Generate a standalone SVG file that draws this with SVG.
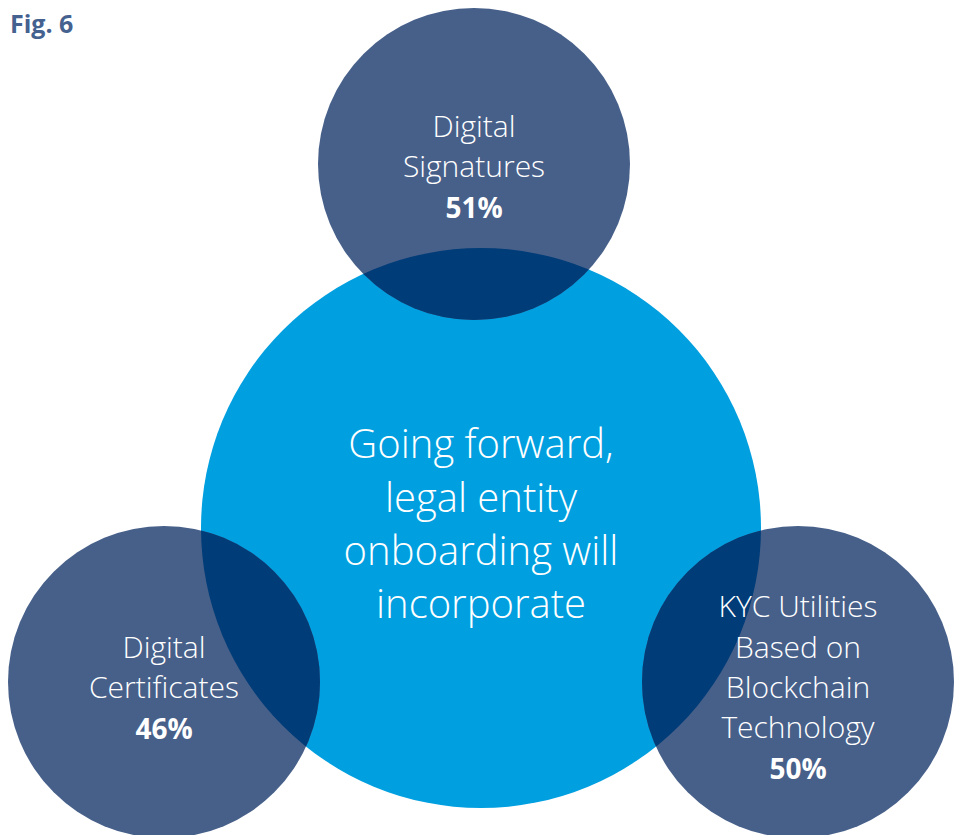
<svg xmlns="http://www.w3.org/2000/svg" width="963" height="835" viewBox="0 0 963 835">
<style>
.small{fill:#47608A}
.ov{fill:#003C78}
.big{fill:#009FE0}
.t{font-family:"Open Sans","Liberation Sans",sans-serif;font-weight:300;fill:#fff;text-anchor:middle}
.s{font-size:30px}
.b{font-weight:700;font-size:28px}
.c{font-size:40px}
</style>
<defs>
<clipPath id="bigclip"><circle cx="481" cy="528" r="280"/></clipPath>
</defs>
<rect width="963" height="835" fill="#fff"/>
<text x="10" y="33" font-family="'Open Sans','Liberation Sans',sans-serif" font-weight="700" font-size="25" fill="#44618F">Fig. 6</text>
<g id="center">
<circle class="big" cx="481" cy="528" r="280"/>
</g>
<g id="top">
<circle class="small" cx="474" cy="164" r="156"/>
<circle class="ov" cx="474" cy="164" r="156" clip-path="url(#bigclip)"/>
<text class="t s" x="474" y="137">Digital</text>
<text class="t s" x="474" y="177">Signatures</text>
<text class="t s b" x="474" y="218">51%</text>
</g>
<g id="left">
<circle class="small" cx="164" cy="682" r="156"/>
<circle class="ov" cx="164" cy="682" r="156" clip-path="url(#bigclip)"/>
<text class="t s" x="164" y="658">Digital</text>
<text class="t s" x="164" y="698">Certificates</text>
<text class="t s b" x="164" y="739">46%</text>
</g>
<g id="right">
<circle class="small" cx="798" cy="682" r="156"/>
<circle class="ov" cx="798" cy="682" r="156" clip-path="url(#bigclip)"/>
<text class="t s" x="798" y="617">KYC Utilities</text>
<text class="t s" x="798" y="658">Based on</text>
<text class="t s" x="798" y="698">Blockchain</text>
<text class="t s" x="798" y="738">Technology</text>
<text class="t s b" x="798" y="779">50%</text>
</g>
<g id="center-label">
<text class="t c" x="481" y="458">Going forward,</text>
<text class="t c" x="481" y="512">legal entity</text>
<text class="t c" x="481" y="565">onboarding will</text>
<text class="t c" x="481" y="618">incorporate</text>
</g>
<g id="connectors"/>
</svg>
